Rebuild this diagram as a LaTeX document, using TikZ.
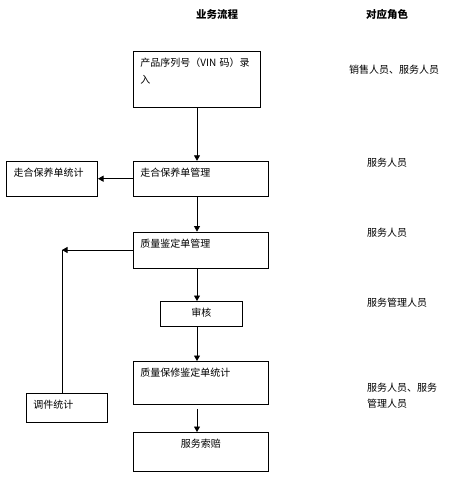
\documentclass[tikz,border=0pt]{standalone}
\usepackage{fontspec}
\setmainfont{Noto Sans CJK SC}
\usepackage{tikz}
\usetikzlibrary{arrows.meta, positioning, calc}

\begin{document}
\begin{tikzpicture}[
		x=1pt, y=-1pt,
		every node/.style={font=\fontsize{10pt}{17pt}\selectfont},
		process/.style={rectangle, draw, line width=0.8pt, anchor=north west, inner xsep=7pt, inner ysep=4pt, text height=11.5pt, align=left},
		role/.style={anchor=west, inner sep=0pt},
		head/.style={font=\fontsize{10.5pt}{17pt}\selectfont\bfseries},
		arrow/.style={-{Triangle[length=5.5pt,width=6pt]}, line width=0.8pt}
		]
		\useasboundingbox (0,0) rectangle (451,480);
		
		% Headers
		\node[head] (flowhead) at (217,14) {业务流程};
		\node[head] (rolehead) at (387,14) {对应角色};
		
		% Nodes
		\node[process, text width=113pt, text depth=36.5pt] (vin) at (133,51) {产品序列号（VIN 码）录\\入};
		\node[process, text width=121pt, text depth=15.5pt, below=53pt of vin.south west, anchor=north west] (runin) {走合保养单管理};
		\node[process, text width=77pt, text depth=15.5pt, left=35pt of runin] (runinstat) {走合保养单统计};
		\node[process, text width=121pt, text depth=16.5pt, below=35pt of runin.south west, anchor=north west] (quality) {质量鉴定单管理};
		\node[process, text width=68pt, text depth=5.5pt, align=center] (audit) at (160,301) {审核};
		\node[process, text width=121pt, text depth=23.5pt] (warranty) at (133,361) {质量保修鉴定单统计};
		\node[process, text width=121pt, text depth=19.5pt, align=center] (claim) at (133,432) {服务索赔};
		\node[process, text width=67pt, text depth=9.5pt] (partstat) at (26,393) {调件统计};
		
		% Roles
		\node[role] (role1) at (349,70) {销售人员、服务人员};
		\node[role] (role2) at (367,163) {服务人员};
		\node[role] (role3) at (367,233) {服务人员};
		\node[role] (role4) at (367,303) {服务管理人员};
		\node[role, anchor=north west, align=left, font=\fontsize{10pt}{16pt}\selectfont] (role5) at (367,383) {服务人员、服务\\管理人员};
		
		% Connection arrows
		\coordinate (spine) at (197,0);
		\coordinate (turn) at (quality.west -| 62,0);
		\draw[arrow] (vin.south -| spine) -- (runin.north -| spine);
		\draw[arrow] (runin) -- (runinstat);
		\draw[arrow] (runin.south -| spine) -- (quality.north -| spine);
		\draw[arrow] (quality.south -| spine) -- (audit.north -| spine);
		\draw[arrow] (audit.south -| spine) -- (warranty.north -| spine);
		\draw[arrow, shorten <=4pt] (warranty.south -| spine) -- (claim.north -| spine);
		\draw[arrow] (quality.west) -- (turn);
		\draw[line width=0.8pt] (turn) -- (partstat.north -| turn);
		
\end{tikzpicture}
\end{document}
